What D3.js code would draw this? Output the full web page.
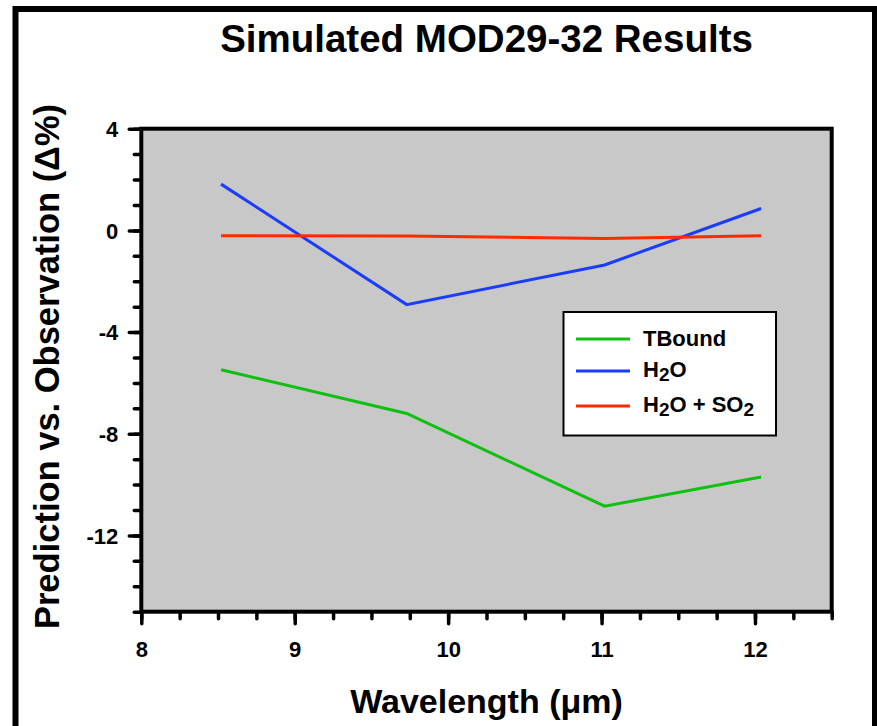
<!DOCTYPE html>
<meta charset="utf-8">
<style>
  body { margin: 0; background: #fff; }
  svg { display: block; }
  text { font-family: Arial, "Liberation Sans", sans-serif; font-weight: bold; fill: #000; }
</style>
<svg width="877" height="726"></svg>

<script src="https://cdn.jsdelivr.net/npm/d3@7"></script>
<script>

// values
var wavelengths = [8.52, 9.73, 11.02, 12.04];
var tbound = [-5.48, -7.2, -10.85, -9.7];
var h2o = [1.82, -2.92, -1.36, 0.86];
var h2oSo2 = [-0.21, -0.22, -0.32, -0.21];

var yMajor = [4, 0, -4, -8, -12];
var xMajor = [8, 9, 10, 11, 12];

var series = [
  { name: "TBound", values: tbound, color: "#10C010" },
  { name: "H2O", values: h2o, color: "#1A3CFF" },
  { name: "H2O + SO2", values: h2oSo2, color: "#FF2A00" }
];

var svg = d3.select("svg");

var plotL = 141.3, plotR = 831.7, plotT = 128.7, plotB = 611.7;

var x = d3.scaleLinear().domain([8, 12.5]).range([plotL, plotR]);
var y = d3.scaleLinear().domain([-15, 4]).range([plotB, plotT]);

// outer frame of the figure
svg.append("rect")
  .attr("x", 15.5).attr("y", 9)
  .attr("width", 859.5).attr("height", 800)
  .attr("fill", "none")
  .attr("stroke", "black")
  .attr("stroke-width", 6);

// title
svg.append("text")
  .attr("x", (plotL + plotR) / 2)
  .attr("y", 52)
  .attr("text-anchor", "middle")
  .style("font-size", "38.5px")
  .text("Simulated MOD29-32 Results");

// plot background
svg.append("rect")
  .attr("x", plotL).attr("y", plotT)
  .attr("width", plotR - plotL).attr("height", plotB - plotT)
  .attr("fill", "#C8C8C8");

// minor ticks
svg.append("g")
  .attr("transform", "translate(" + plotL + ",0)")
  .call(d3.axisLeft(y).tickValues(d3.range(-15, 4.01, 1)).tickSize(7).tickFormat(""))
  .call(g => g.select(".domain").remove());

svg.append("g")
  .attr("transform", "translate(0," + plotB + ")")
  .call(d3.axisBottom(x).tickValues(d3.range(8, 12.51, 0.25)).tickSize(7).tickFormat(""))
  .call(g => g.select(".domain").remove());

// major ticks + labels
var yAxis = svg.append("g")
  .attr("transform", "translate(" + plotL + ",0)")
  .call(d3.axisLeft(y).tickValues(yMajor).tickSize(12).tickPadding(11).tickFormat(d => String(d)))
  .call(g => g.select(".domain").remove());
yAxis.selectAll("text")
  .attr("dy", "0.36em")
  .style("font-size", "22px")
  .style("font-family", "Arial, 'Liberation Sans', sans-serif")
  .style("font-weight", "bold");

var xAxis = svg.append("g")
  .attr("transform", "translate(0," + plotB + ")")
  .call(d3.axisBottom(x).tickValues(xMajor).tickSize(12).tickFormat(d => String(d)))
  .call(g => g.select(".domain").remove());
xAxis.selectAll("text")
  .attr("y", 45).attr("dy", 0)
  .style("font-size", "22px")
  .style("font-family", "Arial, 'Liberation Sans', sans-serif")
  .style("font-weight", "bold");

svg.selectAll(".tick line")
  .attr("stroke", "black")
  .attr("stroke-width", 3.5)
  .attr("stroke-linecap", "round");

// data lines
var line = d3.line()
  .x((d, i) => x(wavelengths[i]))
  .y(d => y(d));

svg.append("g")
  .selectAll("path")
  .data(series)
  .enter().append("path")
    .attr("d", d => line(d.values))
    .attr("fill", "none")
    .attr("stroke", d => d.color)
    .attr("stroke-width", 3);

// plot frame
svg.append("rect")
  .attr("x", plotL).attr("y", plotT)
  .attr("width", plotR - plotL).attr("height", plotB - plotT)
  .attr("fill", "none")
  .attr("stroke", "black")
  .attr("stroke-width", 4);

// legend
var legend = svg.append("g");
legend.append("rect")
  .attr("x", 563.5).attr("y", 312)
  .attr("width", 212.5).attr("height", 123.5)
  .attr("fill", "white")
  .attr("stroke", "black")
  .attr("stroke-width", 2);

var legendY = [339, 371, 406];
var legendBase = [346, 377, 412];

series.forEach(function(s, i) {
  legend.append("line")
    .attr("x1", 576).attr("x2", 630)
    .attr("y1", legendY[i]).attr("y2", legendY[i])
    .attr("stroke", s.color)
    .attr("stroke-width", 3);
});

function chem(t, parts) {
  parts.forEach(function(p) {
    var ts = t.append("tspan").text(p[0]);
    if (p[1]) ts.style("font-size", "19px").attr("dy", 4);
    else ts.attr("dy", p[2] || 0);
  });
}

legend.append("text").attr("x", 643).attr("y", legendBase[0]).style("font-size", "22px").text("TBound");
var t1 = legend.append("text").attr("x", 643).attr("y", legendBase[1]).style("font-size", "22px");
chem(t1, [["H"], ["2", true], ["O", false, -4]]);
var t2 = legend.append("text").attr("x", 643).attr("y", legendBase[2]).style("font-size", "22px");
chem(t2, [["H"], ["2", true], ["O + SO", false, -4], ["2", true]]);

// axis titles
svg.append("text")
  .attr("x", (plotL + plotR) / 2)
  .attr("y", 713)
  .attr("text-anchor", "middle")
  .style("font-size", "34px")
  .text("Wavelength (\u03BCm)");

svg.append("text")
  .attr("transform", "translate(59," + 366.5 + ") rotate(-90)")
  .attr("text-anchor", "middle")
  .style("font-size", "34.5px")
  .text("Prediction vs. Observation (\u0394%)");

</script>
